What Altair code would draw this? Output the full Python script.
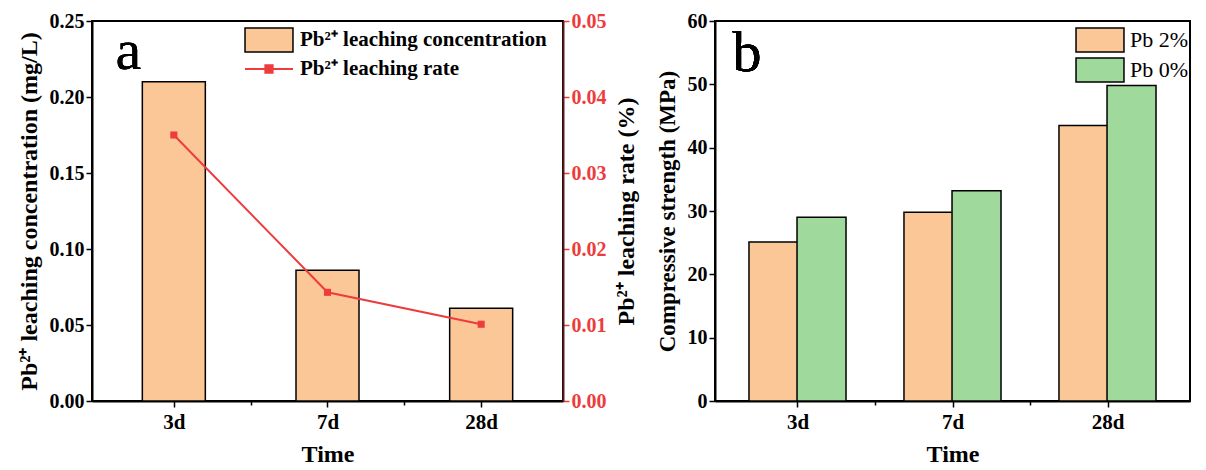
import altair as alt
import pandas as pd

# ---------------- data ----------------
times = ["3d", "7d", "28d"]
leach_conc = [0.210, 0.086, 0.061]      # mg/L
leach_rate = [0.0350, 0.0143, 0.0101]   # %
series_b = ["Pb 2%", "Pb 0%"]
strength_pb2 = [25.1, 29.8, 43.5]       # MPa
strength_pb0 = [29.0, 33.2, 49.8]       # MPa

conc_label = "Pb²⁺ leaching concentration"
rate_label = "Pb²⁺ leaching rate"

ORANGE = "#FBC797"
GREEN = "#9FD99B"
RED = "#EE3B3B"
FONT = "Liberation Serif"

df_a = pd.DataFrame({
    "idx": list(range(len(times))),
    "time": times,
    "conc": leach_conc,
    "rate": leach_rate,
    "s1": [conc_label] * len(times),
    "s2": [rate_label] * len(times),
})

rows = []
for i, t in enumerate(times):
    rows.append({"idx": i, "time": t, "series": series_b[0], "val": strength_pb2[i]})
    rows.append({"idx": i, "time": t, "series": series_b[1], "val": strength_pb0[i]})
df_b = pd.DataFrame(rows)

# ---------------- helpers ----------------
x_label_expr = ("abs(datum.value - round(datum.value)) < 0.001 ? "
                "['3d','7d','28d'][round(datum.value)] : ''")


def x_axis():
    return alt.Axis(
        values=[0, 0.5, 1, 1.5, 2],
        labelExpr=x_label_expr,
        title="Time", grid=False,
        domainColor="black", domainWidth=2,
        tickColor="black", tickWidth=1.5,
        tickSize={"condition": {"test": "abs(datum.value - round(datum.value)) < 0.001", "value": 6}, "value": 4},
        labelFont=FONT, labelFontSize=21, labelFontWeight="bold", labelColor="black",
        labelPadding=4,
        titleFont=FONT, titleFontSize=24, titleFontWeight="bold", titleColor="black",
        titlePadding=10,
    )


def y_axis(values, major_test, fmt, title, orient="left", color="black",
           domain_color="black", title_color="black", title_size=24):
    kw = {}
    if orient == "right":
        kw["titleAngle"] = 270
        kw["titleBaseline"] = "top"
    return alt.Axis(
        values=values, orient=orient,
        labelExpr=f"({major_test}) ? format(datum.value, '{fmt}') : ''",
        title=title, grid=False,
        domainColor=domain_color, domainWidth=2,
        tickColor=color, tickWidth=1.5,
        tickSize={"condition": {"test": major_test, "value": 6}, "value": 4},
        labelFont=FONT, labelFontSize=20, labelFontWeight="bold", labelColor=color,
        labelPadding=2,
        titleFont=FONT, titleFontSize=title_size, titleFontWeight="bold", titleColor=title_color,
        titlePadding=8,
        **kw,
    )


# symbol shapes (drawn wider than the layout box so entries stay compact)
rect_path = "M-2.18,-1.09H2.18V1.09H-2.18Z"
line_path = "M-2.18,0H-0.16M0.16,0H2.18M-0.33,-0.33H0.33V0.33H-0.33Z"
SYM = 484

xscale = alt.Scale(domain=[-0.5, 2.5], nice=False, zero=False)

# ---------------- panel a ----------------
ya_vals = [round(i * 0.025, 3) for i in range(11)]
yr_vals = [round(i * 0.005, 3) for i in range(11)]

bars_a = alt.Chart(df_a).mark_bar(size=63, stroke="black", strokeWidth=1.5).encode(
    x=alt.X("idx:Q", scale=xscale, axis=x_axis()),
    y=alt.Y("conc:Q", scale=alt.Scale(domain=[0, 0.25], nice=False),
            axis=y_axis(ya_vals, "abs(datum.value*20 - round(datum.value*20)) < 0.001", ".2f",
                        "Pb²⁺ leaching concentration (mg/L)")),
    fill=alt.Fill("s1:N", scale=alt.Scale(domain=[conc_label], range=[ORANGE]),
                  legend=alt.Legend(title=None, orient="none", legendX=165, legendY=7,
                                    symbolType=rect_path, symbolSize=SYM,
                                    symbolStrokeColor="black", symbolStrokeWidth=1.5,
                                    symbolOpacity=1, labelLimit=0,
                                    labelFont=FONT, labelFontSize=21, labelFontWeight="bold",
                                    labelColor="black", labelOffset=19, padding=0)),
)

text_a = alt.Chart(df_a).mark_text(text="a", font=FONT, fontSize=58, align="left",
                                   baseline="alphabetic", color="black").encode(
    x=alt.datum(-0.38), y=alt.datum(0.2184)
)

line_a = alt.Chart(df_a).mark_line(strokeWidth=2).encode(
    x=alt.X("idx:Q", scale=xscale),
    y=alt.Y("rate:Q", scale=alt.Scale(domain=[0, 0.05], nice=False),
            axis=y_axis(yr_vals, "abs(datum.value*100 - round(datum.value*100)) < 0.001", ".2f",
                        "Pb²⁺ leaching rate (%)", orient="right", color=RED,
                        domain_color="#5a1c1c", title_color="black")),
    stroke=alt.Stroke("s2:N", scale=alt.Scale(domain=[rate_label], range=[RED]),
                      legend=alt.Legend(title=None, orient="none", legendX=165, legendY=36,
                                        symbolType=line_path, symbolSize=SYM,
                                        symbolStrokeWidth=2, symbolFillColor=RED,
                                        labelLimit=0,
                                        labelFont=FONT, labelFontSize=21, labelFontWeight="bold",
                                        labelColor="black", labelOffset=19, padding=0)),
)

pts_a = alt.Chart(df_a).mark_point(shape="square", filled=True, size=50, color=RED, opacity=1).encode(
    x=alt.X("idx:Q", scale=xscale),
    y=alt.Y("rate:Q"),
)

panel_a = alt.layer(
    alt.layer(bars_a, text_a),
    alt.layer(line_a, pts_a),
).resolve_scale(y="independent").properties(width=471, height=380)

# ---------------- panel b ----------------
yb_vals = list(range(0, 61, 5))

bars_b = alt.Chart(df_b).transform_calculate(
    xpos="datum.idx + (datum.series == 'Pb 2%' ? -0.155 : 0.155)"
).mark_bar(size=49, stroke="black", strokeWidth=1.5).encode(
    x=alt.X("xpos:Q", scale=xscale, axis=x_axis()),
    y=alt.Y("val:Q", scale=alt.Scale(domain=[0, 60], nice=False),
            axis=y_axis(yb_vals, "datum.value % 10 == 0", "d", "Compressive strength (MPa)",
                        title_size=23)),
    fill=alt.Fill("series:N", scale=alt.Scale(domain=series_b, range=[ORANGE, GREEN]),
                  legend=alt.Legend(title=None, orient="none", legendX=373, legendY=7,
                                    symbolType=rect_path, symbolSize=SYM,
                                    symbolStrokeColor="black", symbolStrokeWidth=1.5,
                                    symbolOpacity=1, rowPadding=0, labelLimit=0,
                                    labelFont=FONT, labelFontSize=22, labelFontWeight="normal",
                                    labelColor="black", labelOffset=18, padding=0)),
)

text_b = alt.Chart(df_b).mark_text(text="b", font=FONT, fontSize=58, align="left",
                                   baseline="alphabetic", color="black").encode(
    x=alt.datum(-0.42), y=alt.datum(52.1)
)

panel_b = alt.layer(bars_b, text_b).properties(width=475, height=380)

chart = alt.hconcat(panel_a, panel_b, spacing=16).resolve_scale(
    fill="independent", stroke="independent"
).properties(
    padding={"left": 8, "top": 2, "right": 0, "bottom": 0}
).configure_view(stroke="black", strokeWidth=2).configure_legend(symbolOpacity=1)

chart.save("out.html", embed_options={"renderer": "svg", "actions": False})
